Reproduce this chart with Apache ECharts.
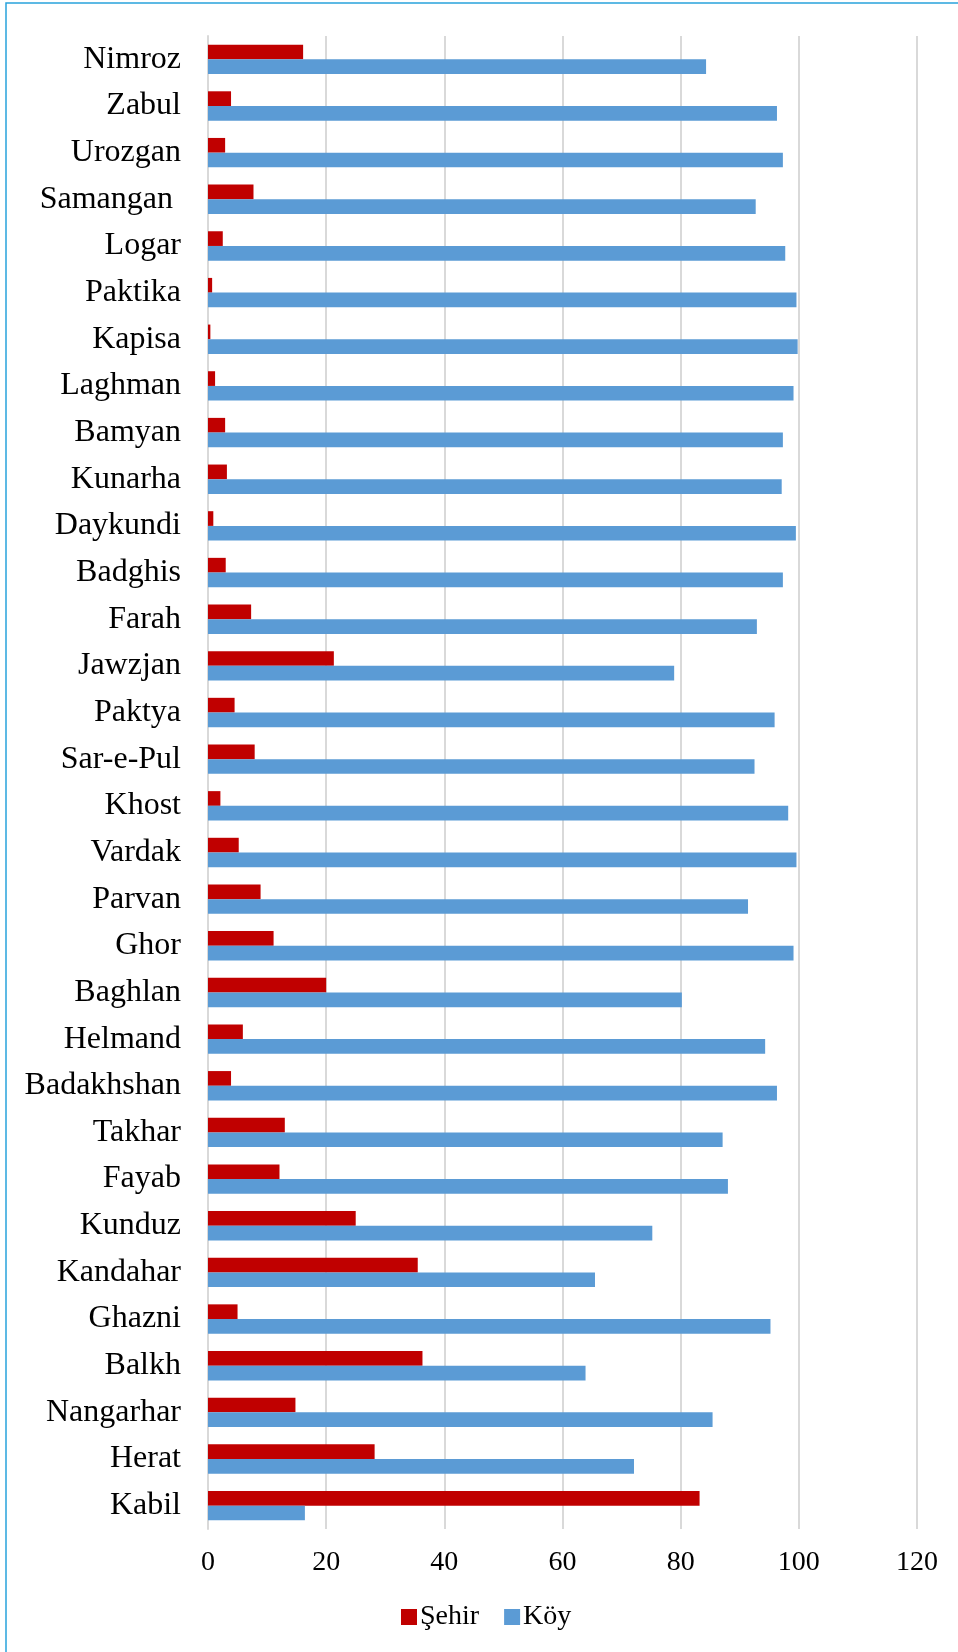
<!DOCTYPE html>
<html><head><meta charset="utf-8">
<script src="https://cdn.jsdelivr.net/npm/echarts@6/dist/echarts.min.js"></script>
<style>html,body{margin:0;padding:0;background:#fff}#c{width:958px;height:1652px}</style>
</head><body><div id="c"></div>
<script>
const categories = ["Kabil","Herat","Nangarhar","Balkh","Ghazni","Kandahar","Kunduz","Fayab","Takhar","Badakhshan","Helmand","Baghlan","Ghor","Parvan","Vardak","Khost","Sar-e-Pul","Paktya","Jawzjan","Farah","Badghis","Daykundi","Kunarha","Bamyan","Laghman","Kapisa","Paktika","Logar","Samangan ","Urozgan","Zabul","Nimroz"];
const sehir = [83.2,28.2,14.8,36.3,5.0,35.5,25.0,12.1,13.0,3.9,5.9,20.0,11.1,8.9,5.2,2.1,7.9,4.5,21.3,7.3,3.0,0.9,3.2,2.9,1.2,0.4,0.7,2.5,7.7,2.9,3.9,16.1];
const koy = [16.4,72.1,85.4,63.9,95.2,65.5,75.2,88.0,87.1,96.3,94.3,80.2,99.1,91.4,99.6,98.2,92.5,95.9,78.9,92.9,97.3,99.5,97.1,97.3,99.1,99.8,99.6,97.7,92.7,97.3,96.3,84.3];
const xTicks = [0,20,40,60,80,100,120];
const serif = '"Liberation Serif","Times New Roman",serif';
const chart = echarts.init(document.getElementById('c'), null, {renderer:'canvas'});
chart.setOption({
  animation:false,
  graphic:[{type:'rect',shape:{x:6,y:3,width:1000,height:1700},style:{fill:'none',stroke:'#29a3dc',lineWidth:1.5}}],
  legend:{bottom:16,left:396,itemWidth:16,itemHeight:16,itemGap:25,icon:'rect',
    textStyle:{fontFamily:serif,fontSize:28,color:'#000',padding:[0,0,0,-2]},
    data:['Şehir','Köy']},
  grid:{left:208,right:41,top:36,bottom:123},
  xAxis:{type:'value',min:xTicks[0],max:xTicks[xTicks.length-1],interval:20,
    axisLine:{show:false},axisTick:{show:false},
    splitLine:{lineStyle:{color:'#d9d9d9',width:2}},
    axisLabel:{fontFamily:serif,fontSize:28,color:'#000',margin:20}},
  yAxis:{type:'category',data:categories,
    axisLine:{lineStyle:{color:'#d9d9d9',width:2}},axisTick:{show:false},
    axisLabel:{fontFamily:serif,fontSize:32,color:'#000',margin:27}},
  series:[
    {name:'Şehir',type:'bar',data:sehir,itemStyle:{color:'#c00000'},barGap:'0%',barCategoryGap:'37%'},
    {name:'Köy',type:'bar',data:koy,itemStyle:{color:'#5b9bd5'},barGap:'0%',barCategoryGap:'37%'}
  ]
});
</script></body></html>
